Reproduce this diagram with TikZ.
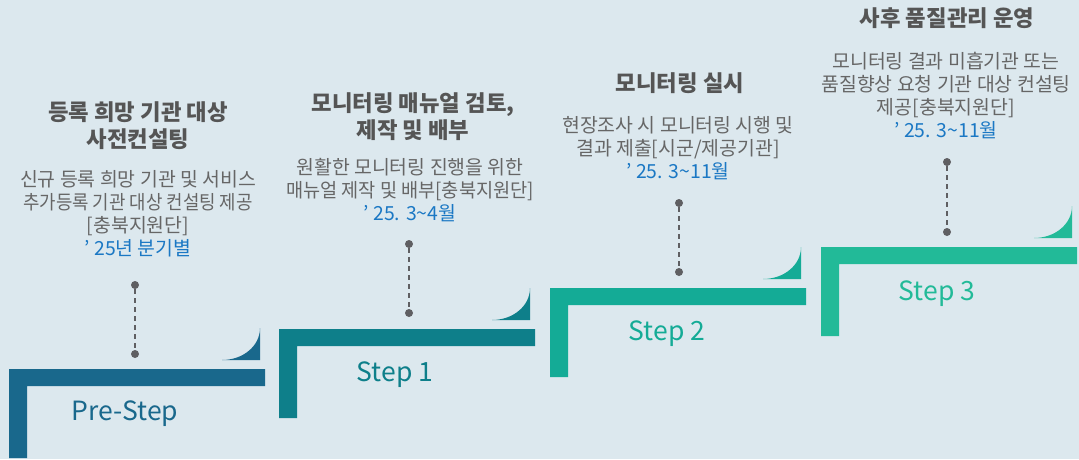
\documentclass[tikz,border=0pt]{standalone}
\usepackage{fontspec}
\usepackage{graphicx}
\setmainfont{Noto Sans CJK KR}
\definecolor{bgc}{HTML}{DCE8EE}
\definecolor{c0}{HTML}{19688C}
\definecolor{c1}{HTML}{0E7F8A}
\definecolor{c2}{HTML}{14AB96}
\definecolor{c3}{HTML}{22BA98}
\definecolor{titlec}{HTML}{555555}
\definecolor{descc}{HTML}{666666}
\definecolor{datec}{HTML}{1B78C4}
\definecolor{dotc}{HTML}{5F5F62}
\newcommand{\stepL}[3]{%
  \fill[#3] (#1,#2) -- ({#1+256},#2) -- ({#1+256},{#2+17}) -- ({#1+18},{#2+17}) -- ({#1+18},{#2+89}) -- (#1,{#2+89}) -- cycle;
  \fill[#3] ({#1+213},{#2-9}) .. controls ({#1+234},{#2-9}) and ({#1+251},{#2-23}) .. ({#1+251},{#2-41}) -- ({#1+251},{#2-9}) -- cycle;
}
\tikzset{
  titletext/.style={align=center,text=titlec,font=\fontsize{22.3}{27}\selectfont\bfseries,inner sep=0pt},
  desctext/.style={align=center,text=descc,font=\fontsize{19.4}{23}\selectfont,inner sep=0pt},
  steptext/.style={font=\fontsize{26.5}{30}\selectfont,inner sep=0pt},
  dotnode/.style={circle,fill=dotc,minimum size=8pt,inner sep=0pt},
  link/.style={draw=dotc,line width=1.4pt,dash pattern=on 5pt off 4pt}
}
\begin{document}
\begin{tikzpicture}[x=1pt,y=-1pt]
\fill[bgc] (0,0) rectangle (1079,459);
\useasboundingbox (0,0) rectangle (1079,459);
% steps
\stepL{9}{369}{c0}
\stepL{279}{329}{c1}
\stepL{550}{288}{c2}
\stepL{821}{247}{c3}
\node[steptext,text=c0] (s0) at (125,414) {Pre-Step};
\node[steptext,text=c1] (s1) at (395,375) {Step 1};
\node[steptext,text=c2] (s2) at (667,334) {Step 2};
\node[steptext,text=c3] (s3) at (937,294) {Step 3};
% dots and connectors
\node[dotnode] (d0a) at (135,285) {};
\node[dotnode] (d0b) at (135,354) {};
\node[dotnode] (d1a) at (409,244) {};
\node[dotnode] (d1b) at (409,313) {};
\node[dotnode] (d2a) at (679,203) {};
\node[dotnode] (d2b) at (679,272) {};
\node[dotnode] (d3a) at (947,162) {};
\node[dotnode] (d3b) at (947,232) {};
\draw[link] (d0a) -- (d0b);
\draw[link] (d1a) -- (d1b);
\draw[link] (d2a) -- (d2b);
\draw[link] (d3a) -- (d3b);
% titles
\node[titletext] (t0) at (138,126) {등록 희망 기관 대상\\사전컨설팅};
\node[titletext] (t1) at (413,117) {모니터링 매뉴얼 검토,\\제작 및 배부};
\node[titletext] (t2) at (680,83) {모니터링 실시};
\node[titletext] (t3) at (947,18) {사후 품질관리 운영};
% descriptions
\node[desctext] (e0) at (138,214) {신규 등록 희망 기관 및 서비스\\\scalebox{0.92}[1]{추가등록 기관 대상 컨설팅 제공}\\{[}충북지원단{]}\\\textcolor{datec}{’ 25년 분기별}};
\node[desctext] (e1) at (410,190) {원활한 모니터링 진행을 위한\\\scalebox{0.96}[1]{매뉴얼 제작 및 배부{[}충북지원단{]}}\\\textcolor{datec}{’ 25. 3\textasciitilde4월}};
\node[desctext] (e2) at (678,148) {현장조사 시 모니터링 시행 및\\결과 제출{[}시군/제공기관{]}\\\textcolor{datec}{’ 25. 3\textasciitilde11월}};
\node[desctext] (e3) at (946,96) {모니터링 결과 미흡기관 또는\\품질향상 요청 기관 대상 컨설팅\\제공{[}충북지원단{]}\\\textcolor{datec}{’ 25. 3\textasciitilde11월}};
\end{tikzpicture}
\end{document}
